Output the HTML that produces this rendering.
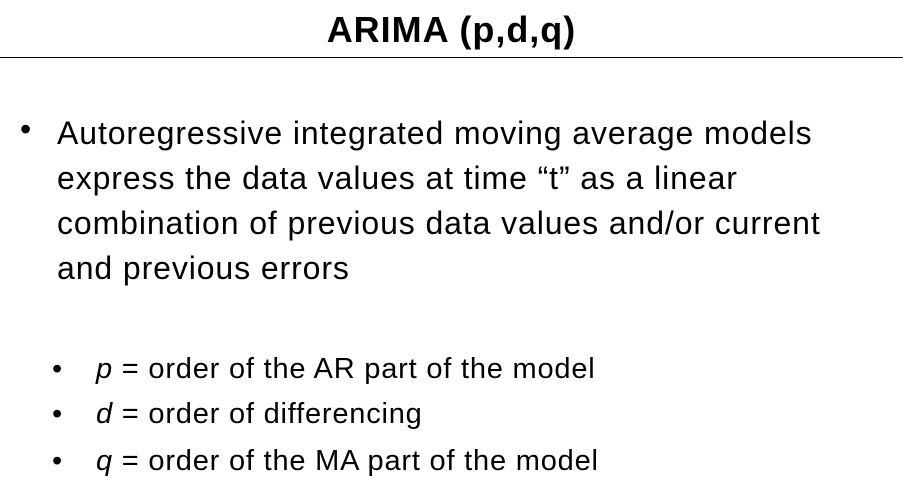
<!DOCTYPE html>
<html><head><meta charset="utf-8"><style>
body{margin:0;width:903px;height:493px;background:#fff;position:relative;overflow:hidden;font-family:"Liberation Sans",sans-serif;color:#000}
.t{position:absolute;white-space:nowrap}
</style></head><body>
<div class="t" style="left:0;width:903px;text-align:center;top:9px;font-size:36px;font-weight:bold;letter-spacing:1px">ARIMA (p,d,q)</div>
<div style="position:absolute;left:0;top:57px;width:903px;height:1px;background:#000"></div>
<div class="t" style="left:20px;top:111px;font-size:32px;">•</div>
<div style="position:absolute;left:57px;top:111px;font-size:32px;line-height:45px;white-space:nowrap;letter-spacing:0.9px">
Autoregressive integrated moving average models<br>
express the data values at time “t” as a linear<br>
combination of previous data values and/or current<br>
and previous errors</div>
<div class="t" style="left:52px;top:353px;font-size:29px;">•<span style="position:absolute;left:44px;letter-spacing:0.8px"><i>p</i> = order of the AR part of the model</span></div>
<div class="t" style="left:52px;top:398px;font-size:29px;">•<span style="position:absolute;left:44px;letter-spacing:0.8px"><i>d</i> = order of differencing</span></div>
<div class="t" style="left:52px;top:445px;font-size:29px;">•<span style="position:absolute;left:44px;letter-spacing:0.8px"><i>q</i> = order of the MA part of the model</span></div>
</body></html>
